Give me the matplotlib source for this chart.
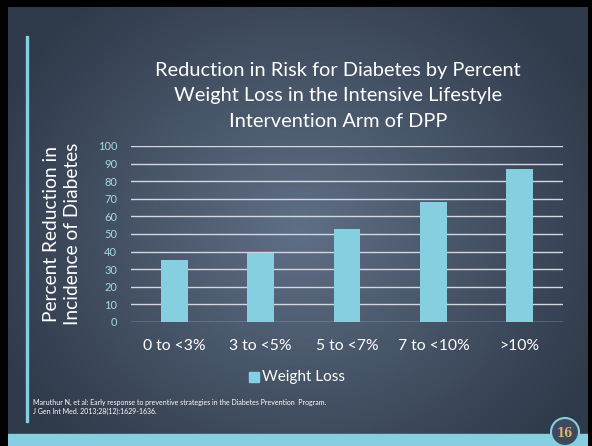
import numpy as np
import matplotlib
matplotlib.use("Agg")
import matplotlib.pyplot as plt
from matplotlib.patches import Rectangle, Circle

categories = ["0 to <3%", "3 to <5%", "5 to <7%", "7 to <10%", ">10%"]
values = [35, 39, 53, 68, 87]
yticks = [0, 10, 20, 30, 40, 50, 60, 70, 80, 90, 100]
series_name = "Weight Loss"
title = "Reduction in Risk for Diabetes by Percent\nWeight Loss in the Intensive Lifestyle\nIntervention Arm of DPP"
ylabel = "Percent Reduction in\nIncidence of Diabetes"
footnote = ("Maruthur N, et al: Early response to preventive strategies in the Diabetes Prevention  Program.\n"
            "J Gen Int Med. 2013;28(12):1629-1636.")
page = "16"

W, H = 592, 446
FONT = "Lato"
BAR = "#86cfe0"

fig = plt.figure(figsize=(W / 100, H / 100), dpi=100)
fig.patch.set_facecolor("black")

def fx(x):
    return x / W

def fy(y):
    return 1 - y / H

# background slide with radial gradient
bg = fig.add_axes([fx(8), fy(446), fx(588) - fx(8), fy(7) - fy(446)])
bg.set_axis_off()
yy, xx = np.mgrid[7:446, 8:588]
d = np.sqrt(((xx - 300) / 330.0) ** 2 + ((yy - 230) / 300.0) ** 2)
d = np.clip(d, 0, 1)
c_center = np.array([0x5f, 0x6f, 0x86]) / 255
c_edge = np.array([0x2f, 0x3a, 0x4a]) / 255
img = c_center[None, None, :] * (1 - d[..., None]) + c_edge[None, None, :] * d[..., None]
bg.imshow(img, extent=[8, 588, 446, 7], aspect="auto")
bg.set_xlim(8, 588)
bg.set_ylim(446, 7)
bg.add_patch(Rectangle((8, 434), 580, 12, color=BAR, zorder=2))
bg.add_patch(Rectangle((26, 36), 2.2, 386, color=BAR, zorder=2))
bg.add_patch(Circle((565, 432), 14, facecolor="#3d4a5e", edgecolor=BAR, lw=1.5, zorder=3))
bg.text(565, 433, page, ha="center", va="center", color="#e3b070", fontsize=8.5,
        fontweight="bold", family="DejaVu Serif", zorder=4)

# chart axes
ax = fig.add_axes([fx(131), fy(322), fx(563) - fx(131), fy(146) - fy(322)])
ax.set_facecolor("none")
x = np.arange(len(categories))
ax.bar(x, values, width=0.31, color=BAR, zorder=3, label=series_name)
ax.set_xlim(-0.5, len(categories) - 0.5)
ax.set_ylim(0, 100)
ax.set_yticks(yticks)
for t in yticks:
    ax.axhline(t, color="#d4d8de", lw=1.0, zorder=1)
for s in ax.spines.values():
    s.set_visible(False)
ax.tick_params(axis="y", length=0, pad=10, labelsize=8, labelcolor="#a9d6e6")
ax.tick_params(axis="x", length=0, pad=12, labelsize=11.3, labelcolor="white")
ax.set_xticks(x)
ax.set_xticklabels(categories, family=FONT)
for lab in ax.get_yticklabels():
    lab.set_family(FONT)

# title
fig.text(fx(338), fy(96), title, ha="center", va="center", color="white",
         fontsize=14.4, family=FONT, linespacing=1.62)
# y label
fig.text(fx(62), fy(234), ylabel, ha="center", va="center", rotation=90,
         color="white", fontsize=13.8, family=FONT, linespacing=1.35)

# legend
bg.add_patch(Rectangle((249, 372), 9.5, 9.5, color=BAR, zorder=3))
fig.text(fx(262), fy(377), series_name, ha="left", va="center", color="white",
         fontsize=11, family=FONT)

# footnote
fig.text(fx(33), fy(407), footnote, ha="left", va="center", color="white",
         fontsize=5.0, family=FONT, linespacing=1.45)

fig.savefig("out.png", dpi=100, facecolor=fig.get_facecolor())
